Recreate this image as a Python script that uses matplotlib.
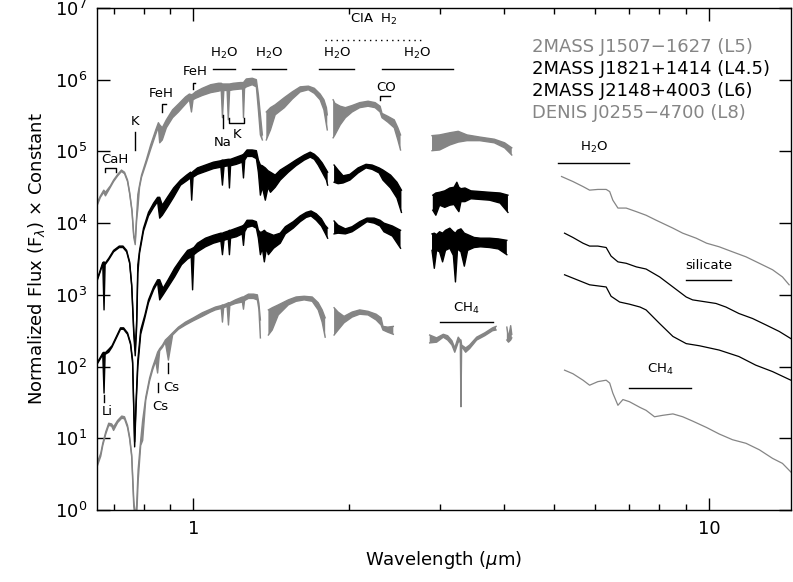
import numpy as np
import matplotlib
matplotlib.use('Agg')
import matplotlib.pyplot as plt
from matplotlib.ticker import FixedLocator, NullFormatter, FixedFormatter, LogFormatterMathtext

nan = float('nan')

# spectra: wavelength (um), upper / lower envelope of log10 flux (noise band)
# 2MASS J1507-1627 (L5)
wl_a = [0.650, 0.660, 0.670, 0.675, 0.690, 0.700, 0.713, 0.725, 0.735, 0.745, 0.752, 0.760, 0.766, 0.771,
        0.776, 0.780, 0.786, 0.793, 0.810, 0.826, 0.845, 0.855, 0.860, 0.870, 0.886, 0.911, 0.935, 0.965,
        0.982, 0.991, 0.998, 1.009, 1.040, 1.080, 1.118, 1.132, 1.138, 1.145, 1.162, 1.168, 1.175, 1.195,
        1.233, 1.245, 1.250, 1.256, 1.266, 1.300, 1.324, 1.336, 1.348, 1.360, nan,
        1.384, 1.410, 1.440, 1.500, 1.554, 1.610, 1.670, 1.715, 1.760, 1.790, 1.810, 1.817, nan,
        1.865, 1.880, 1.925, 1.970, 2.030, 2.100, 2.180, 2.250, 2.300, 2.320, 2.380, 2.450, 2.490, 2.520, nan,
        2.90, 3.00, 3.14, 3.26, 3.39, 3.59, 3.83, 4.01, 4.14]
hi_a = [4.28, 4.38, 4.46, 4.43, 4.52, 4.60, 4.68, 4.74, 4.71, 4.60, 4.43, 4.18, 3.83, 3.76,
        4.11, 4.40, 4.53, 4.67, 4.88, 5.09, 5.30, 5.40, 5.37, 5.33, 5.44, 5.58, 5.66, 5.76,
        5.80, 5.79, 5.80, 5.83, 5.88, 5.93, 5.95, 5.95, 5.94, 5.94, 5.94, 5.94, 5.94, 5.95,
        5.96, 5.96, 5.96, 5.98, 6.01, 6.02, 6.00, 5.79, 5.51, 5.23, nan,
        5.55, 5.61, 5.65, 5.75, 5.83, 5.90, 5.91, 5.88, 5.80, 5.72, 5.61, 5.51, nan,
        5.72, 5.67, 5.63, 5.61, 5.64, 5.68, 5.70, 5.68, 5.63, 5.53, 5.49, 5.44, 5.33, 5.23, nan,
        5.22, 5.23, 5.26, 5.28, 5.23, 5.20, 5.17, 5.12, 5.05]
lo_a = [4.24, 4.36, 4.43, 4.38, 4.50, 4.58, 4.66, 4.72, 4.69, 4.58, 4.41, 4.16, 3.80, 3.70,
        4.05, 4.20, 4.50, 4.64, 4.84, 5.03, 5.24, 5.34, 5.12, 5.16, 5.33, 5.47, 5.55, 5.66,
        5.72, 5.55, 5.72, 5.74, 5.78, 5.82, 5.84, 5.85, 5.47, 5.85, 5.85, 5.44, 5.85, 5.86,
        5.87, 5.87, 5.47, 5.88, 5.90, 5.93, 5.90, 5.58, 5.23, 5.16, nan,
        5.16, 5.30, 5.51, 5.61, 5.73, 5.83, 5.86, 5.81, 5.72, 5.58, 5.37, 5.30, nan,
        5.19, 5.23, 5.37, 5.47, 5.55, 5.61, 5.63, 5.61, 5.55, 5.47, 5.41, 5.33, 5.16, 5.02, nan,
        5.01, 5.02, 5.09, 5.13, 5.15, 5.15, 5.12, 5.05, 4.95]

# 2MASS J1821+1414 (L4.5)
wl_b = [0.650, 0.660, 0.667, 0.6708, 0.674, 0.685, 0.700, 0.718, 0.730, 0.742, 0.752, 0.759, 0.766, 0.771,
        0.776, 0.780, 0.786, 0.800, 0.818, 0.837, 0.852, 0.860, 0.870, 0.890, 0.915, 0.944, 0.970, 0.987,
        0.992, 0.998, 1.018, 1.055, 1.093, 1.130, 1.138, 1.146, 1.168, 1.174, 1.180, 1.211, 1.243, 1.250,
        1.257, 1.270, 1.300, 1.324, 1.336, 1.348, 1.360, 1.378, 1.395, 1.410, 1.440, 1.473, 1.527, 1.580,
        1.640, 1.684, 1.715, 1.745, 1.776, 1.810, 1.820, nan,
        1.873, 1.907, 1.950, 2.010, 2.085, 2.160, 2.220, 2.290, 2.330, 2.410, 2.480, 2.530, nan,
        2.91, 2.95, 3.00, 3.07, 3.14, 3.20, 3.24, 3.27, 3.30, 3.36, 3.45, 3.60, 3.75, 3.93, 4.07]
hi_b = [3.21, 3.35, 3.45, 3.46, 3.44, 3.51, 3.62, 3.68, 3.68, 3.62, 3.46, 3.14, 2.51, 2.23,
        2.65, 3.42, 3.62, 3.93, 4.15, 4.28, 4.36, 4.36, 4.25, 4.36, 4.49, 4.60, 4.67, 4.71,
        4.70, 4.72, 4.77, 4.81, 4.85, 4.87, 4.88, 4.88, 4.89, 4.89, 4.89, 4.92, 4.95, 4.96,
        4.98, 5.02, 5.02, 5.01, 4.88, 4.81, 4.80, 4.77, 4.73, 4.71, 4.67, 4.74, 4.81, 4.88,
        4.95, 4.99, 4.96, 4.91, 4.84, 4.74, 4.71, nan,
        4.81, 4.74, 4.66, 4.68, 4.77, 4.82, 4.81, 4.77, 4.74, 4.67, 4.57, 4.46, nan,
        4.39, 4.42, 4.43, 4.45, 4.49, 4.50, 4.57, 4.50, 4.48, 4.49, 4.45, 4.44, 4.43, 4.42, 4.39]
lo_b = [3.19, 3.33, 3.43, 2.79, 3.42, 3.49, 3.60, 3.66, 3.66, 3.60, 3.44, 3.12, 2.45, 2.15,
        2.55, 3.30, 3.58, 3.89, 4.10, 4.22, 4.30, 4.07, 4.11, 4.22, 4.36, 4.53, 4.59, 4.63,
        4.32, 4.64, 4.68, 4.72, 4.76, 4.78, 4.53, 4.79, 4.80, 4.49, 4.80, 4.82, 4.85, 4.63,
        4.88, 4.93, 4.93, 4.90, 4.71, 4.39, 4.50, 4.32, 4.50, 4.43, 4.50, 4.60, 4.71, 4.80,
        4.88, 4.92, 4.89, 4.81, 4.71, 4.60, 4.53, nan,
        4.57, 4.55, 4.56, 4.60, 4.70, 4.77, 4.75, 4.70, 4.60, 4.49, 4.35, 4.15, nan,
        4.18, 4.11, 4.25, 4.22, 4.25, 4.26, 4.20, 4.16, 4.30, 4.30, 4.34, 4.33, 4.32, 4.28, 4.15]

# 2MASS J2148+4003 (L6)
wl_c = [0.650, 0.660, 0.667, 0.6708, 0.674, 0.685, 0.695, 0.710, 0.722, 0.732, 0.745, 0.755, 0.762, 0.769,
        0.774, 0.780, 0.790, 0.805, 0.818, 0.837, 0.852, 0.860, 0.873, 0.893, 0.919, 0.948, 0.974, 0.990,
        0.996, 1.002, 1.018, 1.055, 1.093, 1.130, 1.138, 1.146, 1.168, 1.174, 1.180, 1.211, 1.243, 1.250,
        1.257, 1.270, 1.300, 1.324, 1.336, 1.348, 1.360, 1.372, 1.385, 1.397, 1.430, 1.473, 1.507, 1.561,
        1.610, 1.654, 1.690, 1.730, 1.770, 1.800, 1.820, nan,
        1.873, 1.907, 1.970, 2.030, 2.100, 2.170, 2.240, 2.300, 2.340, 2.430, 2.520, nan,
        2.90, 2.93, 2.96, 3.00, 3.04, 3.08, 3.14, 3.19, 3.22, 3.25, 3.30, 3.35, 3.40, 3.50, 3.60, 3.75,
        3.90, 4.05]
hi_c = [2.05, 2.13, 2.19, 2.20, 2.19, 2.24, 2.29, 2.43, 2.54, 2.54, 2.47, 2.33, 2.09, 0.95,
        1.53, 2.09, 2.51, 2.72, 2.93, 3.11, 3.21, 3.21, 3.09, 3.21, 3.37, 3.51, 3.62, 3.64,
        3.65, 3.66, 3.72, 3.79, 3.83, 3.86, 3.86, 3.87, 3.89, 3.90, 3.90, 3.93, 3.96, 3.97,
        3.99, 4.04, 4.04, 4.02, 3.90, 3.87, 3.88, 3.90, 3.87, 3.86, 3.83, 3.86, 3.95, 4.02,
        4.10, 4.15, 4.17, 4.13, 4.06, 3.97, 3.93, nan,
        4.03, 3.97, 3.92, 3.95, 4.02, 4.07, 4.07, 4.04, 4.00, 3.96, 3.90, nan,
        3.85, 3.86, 3.84, 3.88, 3.86, 3.90, 3.93, 3.88, 3.86, 3.90, 3.92, 3.86, 3.84, 3.80, 3.79, 3.79,
        3.78, 3.76]
lo_c = [2.03, 2.11, 2.17, 1.63, 2.17, 2.20, 2.27, 2.41, 2.52, 2.52, 2.45, 2.31, 2.05, 0.88,
        1.45, 2.00, 2.45, 2.68, 2.89, 3.07, 3.17, 2.93, 3.00, 3.11, 3.25, 3.42, 3.50, 3.53,
        3.07, 3.56, 3.60, 3.67, 3.72, 3.75, 3.56, 3.76, 3.78, 3.56, 3.79, 3.81, 3.85, 3.69,
        3.88, 3.94, 3.96, 3.93, 3.79, 3.56, 3.65, 3.46, 3.65, 3.56, 3.65, 3.72, 3.85, 3.93,
        4.02, 4.08, 4.10, 4.04, 3.96, 3.86, 3.79, nan,
        3.85, 3.86, 3.85, 3.88, 3.95, 4.02, 4.00, 3.96, 3.88, 3.82, 3.65, nan,
        3.62, 3.37, 3.62, 3.60, 3.46, 3.62, 3.65, 3.55, 3.18, 3.64, 3.60, 3.40, 3.62, 3.66, 3.67, 3.66,
        3.64, 3.56]

# DENIS J0255-4700 (L8)
wl_d = [0.650, 0.661, 0.667, 0.676, 0.685, 0.694, 0.700, 0.713, 0.726, 0.735, 0.745, 0.752, 0.759, 0.766,
        0.771, 0.776, 0.781, 0.790, 0.797, 0.808, 0.822, 0.833, 0.845, 0.852, 0.860, 0.871, 0.882, 0.894,
        0.911, 0.935, 0.965, 1.000, 1.040, 1.079, 1.103, 1.132, 1.138, 1.144, 1.162, 1.169, 1.176, 1.206,
        1.244, 1.250, 1.256, 1.278, 1.307, 1.330, 1.339, 1.348, nan,
        1.397, 1.421, 1.460, 1.527, 1.581, 1.639, 1.699, 1.745, 1.776, 1.800, nan,
        1.873, 1.907, 1.958, 2.030, 2.100, 2.180, 2.260, 2.310, 2.330, 2.380, 2.440, nan,
        2.87, 2.96, 3.05, 3.11, 3.17, 3.21, 3.26, 3.29, 3.30, 3.31, 3.37, 3.43, 3.54, 3.67, 3.80, 3.86, nan,
        4.05, 4.08, 4.12, 4.14]
hi_d = [0.65, 0.79, 0.93, 1.09, 1.21, 1.20, 1.16, 1.25, 1.31, 1.30, 1.18, 1.02, 0.77, 0.14,
        -0.1, 0.07, 0.56, 0.97, 1.25, 1.57, 1.84, 1.99, 2.12, 2.20, 2.25, 2.30, 2.37, 2.41,
        2.47, 2.55, 2.62, 2.68, 2.75, 2.80, 2.83, 2.85, 2.86, 2.86, 2.88, 2.89, 2.89, 2.93,
        2.97, 2.97, 2.98, 3.01, 3.01, 3.00, 2.88, 2.65, nan,
        2.79, 2.82, 2.86, 2.93, 2.97, 2.98, 2.97, 2.89, 2.79, 2.68, nan,
        2.82, 2.76, 2.70, 2.76, 2.79, 2.77, 2.73, 2.68, 2.56, 2.55, 2.56, nan,
        2.44, 2.40, 2.45, 2.43, 2.36, 2.26, 2.41, 2.37, 2.37, 2.30, 2.26, 2.30, 2.41, 2.47, 2.54, 2.56, nan,
        2.55, 2.40, 2.57, 2.45]
lo_d = [0.60, 0.75, 0.90, 1.06, 1.18, 1.17, 1.11, 1.22, 1.28, 1.27, 1.15, 0.99, 0.74, 0.05,
        -0.1, -0.1, 0.40, 0.90, 0.97, 1.53, 1.80, 1.95, 2.08, 1.91, 2.22, 2.27, 2.34, 2.09,
        2.44, 2.52, 2.58, 2.64, 2.70, 2.76, 2.79, 2.81, 2.62, 2.82, 2.84, 2.58, 2.85, 2.88,
        2.90, 2.80, 2.92, 2.95, 2.95, 2.93, 2.80, 2.40, nan,
        2.44, 2.51, 2.72, 2.86, 2.91, 2.93, 2.91, 2.79, 2.62, 2.41, nan,
        2.44, 2.51, 2.61, 2.69, 2.73, 2.72, 2.65, 2.58, 2.51, 2.48, 2.45, nan,
        2.33, 2.34, 2.41, 2.37, 2.30, 2.20, 2.34, 2.35, 1.44, 2.28, 2.20, 2.25, 2.37, 2.43, 2.50, 2.51, nan,
        2.37, 2.34, 2.37, 2.40]

# Spitzer IRS spectra (log10 flux)
irs_wl_a = [5.17, 5.44, 5.69, 5.86, 6.08, 6.31, 6.41, 6.50, 6.65, 6.90, 7.22, 7.54, 7.89, 8.50, 8.88,
            9.43, 9.88, 10.45, 11.09, 11.78, 12.50, 13.26, 13.86, 14.28]
irs_a = [4.65, 4.58, 4.51, 4.46, 4.47, 4.47, 4.44, 4.32, 4.21, 4.21, 4.16, 4.11, 4.04, 3.93, 3.86,
         3.79, 3.72, 3.67, 3.60, 3.53, 3.44, 3.35, 3.25, 3.14]
irs_wl_b = [5.24, 5.44, 5.69, 5.86, 6.08, 6.31, 6.45, 6.65, 6.90, 7.22, 7.54, 8.01, 8.50, 9.02, 9.28,
            9.88, 10.30, 10.77, 11.41, 12.13, 12.88, 13.66, 14.39]
irs_b = [3.86, 3.80, 3.72, 3.68, 3.68, 3.66, 3.54, 3.46, 3.44, 3.39, 3.36, 3.25, 3.11, 2.97, 2.93,
         2.90, 2.88, 2.83, 2.74, 2.67, 2.58, 2.49, 2.39]
irs_wl_c = [5.24, 5.86, 6.31, 6.45, 6.70, 7.00, 7.34, 7.54, 8.01, 8.50, 9.02, 9.57, 10.45, 11.41,
            12.30, 13.26, 14.39]
irs_c = [3.28, 3.14, 3.11, 2.98, 2.90, 2.87, 2.83, 2.79, 2.60, 2.42, 2.32, 2.29, 2.23, 2.14,
         2.02, 1.93, 1.81]
irs_wl_d = [5.24, 5.44, 5.69, 5.86, 6.08, 6.31, 6.41, 6.50, 6.65, 6.80, 7.00, 7.34, 7.54, 7.83, 8.12,
            8.50, 8.88, 9.28, 9.88, 10.45, 11.09, 11.78, 12.50, 13.26, 13.86, 14.39]
irs_d = [1.95, 1.90, 1.81, 1.74, 1.79, 1.81, 1.77, 1.63, 1.46, 1.54, 1.51, 1.43, 1.39, 1.30, 1.32,
         1.34, 1.30, 1.24, 1.15, 1.06, 0.98, 0.93, 0.84, 0.72, 0.65, 0.53]

names = ['2MASS J1507\u22121627 (L5)', '2MASS J1821+1414 (L4.5)',
         '2MASS J2148+4003 (L6)', 'DENIS J0255\u22124700 (L8)']
grey = '#858585'
colors = [grey, 'black', 'black', grey]

plt.rcParams['font.family'] = 'DejaVu Sans'
fig = plt.figure(figsize=(7.93, 5.82), dpi=100)
ax = fig.add_axes([0.1223, 0.1237, 0.8752, 0.8626])
ax.set_xscale('log')
ax.set_yscale('log')
ax.set_xlim(0.65, 14.4)
ax.set_ylim(1, 1e7)


def draw(wl, hi, lo, color):
    wl = np.array(wl)
    hi = 10 ** np.array(hi)
    lo = 10 ** np.array(lo)
    ax.fill_between(wl, lo, hi, color=color, lw=0)
    ax.plot(wl, hi, color=color, lw=1.0)
    ax.plot(wl, lo, color=color, lw=1.0)


spectra = [(wl_a, hi_a, lo_a), (wl_b, hi_b, lo_b), (wl_c, hi_c, lo_c), (wl_d, hi_d, lo_d)]
irs = [(irs_wl_a, irs_a), (irs_wl_b, irs_b), (irs_wl_c, irs_c), (irs_wl_d, irs_d)]
for (wl, hi, lo), (iw, iy), col in zip(spectra, irs, colors):
    draw(wl, hi, lo, col)
    ax.plot(iw, 10 ** np.array(iy), color=col, lw=0.9)

# legend as coloured text
for k, (name, col) in enumerate(zip(names, colors)):
    ax.text(0.627, 0.922 - k * 0.0435, name, color=col, fontsize=13,
            transform=ax.transAxes, va='center', ha='left')

# feature labels
fs = 9.5
lc = 'black'


def band(text, x0, x1, y, ty, ls='-'):
    ax.plot([x0, x1], [y, y], color=lc, lw=1, ls=ls)
    ax.text(np.sqrt(x0 * x1), ty, text, fontsize=fs, ha='center', va='center')


band('H$_2$O', 1.093, 1.206, 1.41e6, 2.3e6)
band('H$_2$O', 1.30, 1.513, 1.41e6, 2.3e6)
band('H$_2$O', 1.753, 2.05, 1.41e6, 2.3e6)
band('H$_2$O', 2.32, 3.18, 1.41e6, 2.3e6)
band('CIA  H$_2$', 1.80, 2.77, 3.56e6, 6.9e6, ls=(0, (1, 3)))
band('H$_2$O', 5.10, 7.0, 6.9e4, 1.12e5)
band('CH$_4$', 3.00, 3.80, 4.2e2, 6.4e2)
band('silicate', 9.03, 11.03, 1.6e3, 2.55e3)
band('CH$_4$', 7.0, 9.23, 50, 90)

# CaH bracket
ax.plot([0.675, 0.675, 0.707, 0.707], [5.1e4, 5.9e4, 5.9e4, 5.1e4], color=lc, lw=1)
ax.text(0.703, 7.6e4, 'CaH', fontsize=fs, ha='center', va='center')
# K 7700
ax.plot([0.769, 0.769], [1.05e5, 1.86e5], color=lc, lw=1)
ax.text(0.769, 2.6e5, 'K', fontsize=fs, ha='center', va='center')
# FeH
ax.plot([0.869, 0.869, 0.883], [3.6e5, 4.6e5, 4.6e5], color=lc, lw=1)
ax.text(0.867, 6.4e5, 'FeH', fontsize=fs, ha='center', va='center')
ax.plot([0.996, 0.996, 1.009], [7.4e5, 8.9e5, 8.9e5], color=lc, lw=1)
ax.text(1.009, 1.3e6, 'FeH', fontsize=fs, ha='center', va='center')
# Na, K doublets
ax.plot([1.141, 1.141], [2.1e5, 3.2e5], color=lc, lw=1)
ax.text(1.138, 1.35e5, 'Na', fontsize=fs, ha='center', va='center')
ax.plot([1.174, 1.174, 1.255, 1.255], [2.9e5, 2.5e5, 2.5e5, 2.9e5], color=lc, lw=1)
ax.text(1.216, 1.7e5, 'K', fontsize=fs, ha='center', va='center')
# CO
ax.plot([2.30, 2.30, 2.40], [5.2e5, 5.9e5, 5.9e5], color=lc, lw=1)
ax.text(2.36, 7.9e5, 'CO', fontsize=fs, ha='center', va='center')
# Li, Cs
ax.plot([0.6708, 0.6708], [31.6, 40], color=lc, lw=1)
ax.text(0.679, 23.6, 'Li', fontsize=fs, ha='center', va='center')
ax.plot([0.852, 0.852], [44, 59], color=lc, lw=1)
ax.text(0.863, 28, 'Cs', fontsize=fs, ha='center', va='center')
ax.plot([0.894, 0.894], [81, 112], color=lc, lw=1)
ax.text(0.907, 51, 'Cs', fontsize=fs, ha='center', va='center')

# axes styling
ax.xaxis.set_major_locator(FixedLocator([1, 10]))
ax.xaxis.set_major_formatter(FixedFormatter(['1', '10']))
ax.xaxis.set_minor_locator(FixedLocator([0.7, 0.8, 0.9, 2, 3, 4, 5, 6, 7, 8, 9]))
ax.xaxis.set_minor_formatter(NullFormatter())
ax.yaxis.set_major_locator(FixedLocator([10.0 ** k for k in range(8)]))
ax.yaxis.set_major_formatter(LogFormatterMathtext())
ax.yaxis.set_minor_locator(FixedLocator([]))
ax.tick_params(which='both', direction='in', top=True, right=True, width=1, labelsize=13)
ax.tick_params(which='major', length=9, pad=7)
ax.tick_params(which='minor', length=4.5)
for s in ax.spines.values():
    s.set_linewidth(1.0)

ax.set_xlabel('Wavelength ($\\mu$m)', fontsize=13, labelpad=8)
ax.set_ylabel('Normalized Flux (F$_\\lambda$) $\\times$ Constant', fontsize=13, labelpad=6)

fig.savefig('out.png', dpi=100)
